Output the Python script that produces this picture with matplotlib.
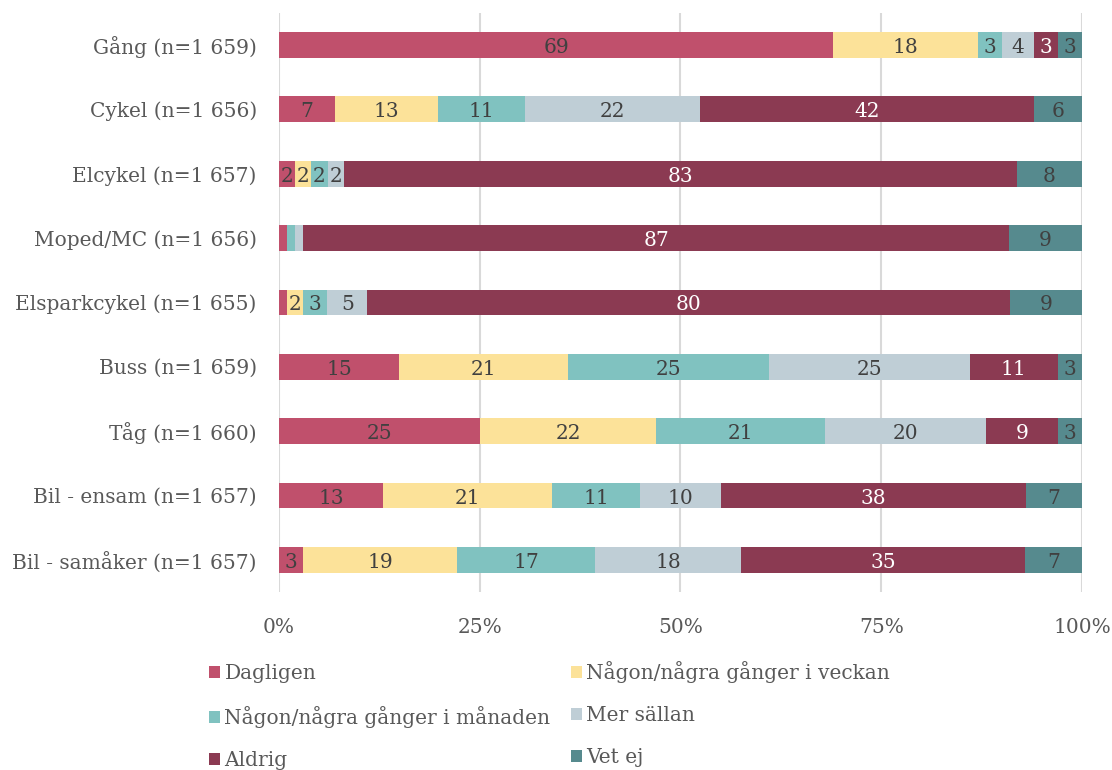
import matplotlib

matplotlib.use("Agg")

import matplotlib.pyplot as plt
import numpy as np

plt.rcParams["font.family"] = ["DejaVu Serif"]

categories = [
    "Gång (n=1 659)",
    "Cykel (n=1 656)",
    "Elcykel (n=1 657)",
    "Moped/MC (n=1 656)",
    "Elsparkcykel (n=1 655)",
    "Buss (n=1 659)",
    "Tåg (n=1 660)",
    "Bil - ensam (n=1 657)",
    "Bil - samåker (n=1 657)",
]

series_names = [
    "Dagligen",
    "Någon/några gånger i veckan",
    "Någon/några gånger i månaden",
    "Mer sällan",
    "Aldrig",
    "Vet ej",
]

dagligen = [69, 7, 2, 1, 1, 15, 25, 13, 3]
veckan = [18, 13, 2, 0, 2, 21, 22, 21, 19]
manaden = [3, 11, 2, 1, 3, 25, 21, 11, 17]
mer_sallan = [4, 22, 2, 1, 5, 25, 20, 10, 18]
aldrig = [3, 42, 83, 87, 80, 11, 9, 38, 35]
vet_ej = [3, 6, 8, 9, 9, 3, 3, 7, 7]

colors = ["#C0506C", "#FCE299", "#80C2C0", "#BFCED6", "#8B3A52", "#568A8E"]
label_colors = ["#404040", "#404040", "#404040", "#404040", "white", "#404040"]

values = np.array([dagligen, veckan, manaden, mer_sallan, aldrig, vet_ej], dtype=float)
# 100 % stacked: scale each row to its own total
shares = values / values.sum(axis=0) * 100

fig = plt.figure(figsize=(11.12, 7.7), dpi=100)
ax = fig.add_axes([0.2509, 0.2311, 0.7221, 0.7523])

y = np.arange(len(categories))
left = np.zeros(len(categories))
handles = []
for i, name in enumerate(series_names):
    bars = ax.barh(y, shares[i], left=left, height=0.4, color=colors[i],
                   label=name, zorder=3)
    handles.append(bars)
    for j, b in enumerate(bars):
        v = values[i, j]
        if v >= 2:
            ax.text(left[j] + shares[i, j] / 2, y[j] + 0.04, f"{int(v)}", ha="center",
                    va="center", fontsize=14.5, color=label_colors[i], zorder=4)
    left += shares[i]

ax.set_xlim(0, 100)
ax.set_ylim(len(categories) - 0.5, -0.5)
ax.set_yticks(y)
ax.set_yticklabels(categories, fontsize=14.5, color="#595959")
ax.set_xticks([0, 25, 50, 75, 100])
ax.set_xticklabels(["0%", "25%", "50%", "75%", "100%"], fontsize=14.5, color="#595959")
ax.tick_params(axis="y", length=0, pad=16)
ax.tick_params(axis="x", length=0, pad=19)
ax.grid(axis="x", color="#D9D9D9", linewidth=1.5, zorder=0)
for s in ax.spines.values():
    s.set_visible(False)

order = [0, 2, 4, 1, 3, 5]
fig.legend([handles[k] for k in order], [series_names[k] for k in order],
           loc="upper left", bbox_to_anchor=(0.181, 0.152), ncol=2,
           frameon=False, fontsize=14.5, labelcolor="#595959",
           handlelength=0.55, handleheight=0.55, handletextpad=0.2,
           columnspacing=1.0, labelspacing=1.15, borderaxespad=0)

fig.savefig("out.png", dpi=100)
